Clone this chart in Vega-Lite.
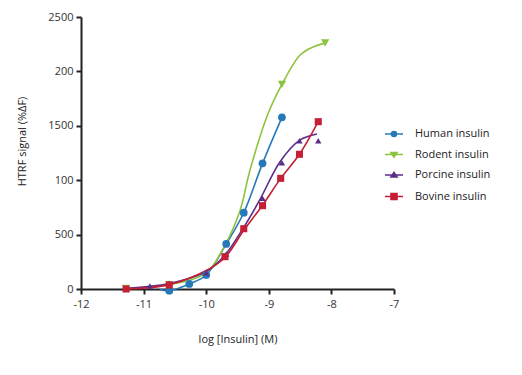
{
  "$schema": "https://vega.github.io/schema/vega-lite/v6.json",
  "width": 313,
  "height": 272,
  "autosize": {"type": "none"},
  "padding": {"left": 81, "top": 17, "right": 128, "bottom": 69},
  "background": "white",
  "config": {
    "view": {"stroke": null},
    "font": "Open Sans",
    "axis": {
      "domainColor": "#222",
      "domainWidth": 2,
      "tickColor": "#222",
      "tickWidth": 2,
      "tickSize": 5,
      "grid": false,
      "labelFont": "Open Sans",
      "labelFontSize": 11,
      "labelColor": "#333",
      "titleFont": "Open Sans",
      "titleFontSize": 11,
      "titleFontWeight": "normal",
      "titleColor": "#222"
    }
  },
  "datasets": {
    "curves": [
      {"insulin": "Human insulin", "logc": -10.74, "signal": -5},
      {"insulin": "Human insulin", "logc": -10.59, "signal": -15},
      {"insulin": "Human insulin", "logc": -10.27, "signal": 46},
      {"insulin": "Human insulin", "logc": -10.0, "signal": 129},
      {"insulin": "Human insulin", "logc": -9.68, "signal": 414},
      {"insulin": "Human insulin", "logc": -9.4, "signal": 701},
      {"insulin": "Human insulin", "logc": -9.1, "signal": 1155},
      {"insulin": "Human insulin", "logc": -8.79, "signal": 1578},
      {"insulin": "Rodent insulin", "logc": -11.28, "signal": 5},
      {"insulin": "Rodent insulin", "logc": -10.59, "signal": 40},
      {"insulin": "Rodent insulin", "logc": -10.0, "signal": 150},
      {"insulin": "Rodent insulin", "logc": -9.7, "signal": 404},
      {"insulin": "Rodent insulin", "logc": -9.46, "signal": 720},
      {"insulin": "Rodent insulin", "logc": -9.3, "signal": 1094},
      {"insulin": "Rodent insulin", "logc": -9.01, "signal": 1615},
      {"insulin": "Rodent insulin", "logc": -8.79, "signal": 1881},
      {"insulin": "Rodent insulin", "logc": -8.5, "signal": 2151},
      {"insulin": "Rodent insulin", "logc": -8.29, "signal": 2225},
      {"insulin": "Rodent insulin", "logc": -8.1, "signal": 2260},
      {"insulin": "Porcine insulin", "logc": -11.28, "signal": 5},
      {"insulin": "Porcine insulin", "logc": -10.9, "signal": 25},
      {"insulin": "Porcine insulin", "logc": -10.59, "signal": 50},
      {"insulin": "Porcine insulin", "logc": -10.0, "signal": 160},
      {"insulin": "Porcine insulin", "logc": -9.7, "signal": 312},
      {"insulin": "Porcine insulin", "logc": -9.41, "signal": 558},
      {"insulin": "Porcine insulin", "logc": -9.14, "signal": 824},
      {"insulin": "Porcine insulin", "logc": -8.82, "signal": 1170},
      {"insulin": "Porcine insulin", "logc": -8.5, "signal": 1370},
      {"insulin": "Porcine insulin", "logc": -8.23, "signal": 1425},
      {"insulin": "Bovine insulin", "logc": -11.28, "signal": 0},
      {"insulin": "Bovine insulin", "logc": -10.59, "signal": 40},
      {"insulin": "Bovine insulin", "logc": -10.0, "signal": 170},
      {"insulin": "Bovine insulin", "logc": -9.7, "signal": 290},
      {"insulin": "Bovine insulin", "logc": -9.4, "signal": 540},
      {"insulin": "Bovine insulin", "logc": -9.1, "signal": 770},
      {"insulin": "Bovine insulin", "logc": -8.81, "signal": 1017},
      {"insulin": "Bovine insulin", "logc": -8.51, "signal": 1238},
      {"insulin": "Bovine insulin", "logc": -8.21, "signal": 1538}
    ],
    "points": [
      {"insulin": "Human insulin", "logc": -10.59, "signal": -15},
      {"insulin": "Human insulin", "logc": -10.27, "signal": 46},
      {"insulin": "Human insulin", "logc": -10.0, "signal": 129},
      {"insulin": "Human insulin", "logc": -9.68, "signal": 414},
      {"insulin": "Human insulin", "logc": -9.4, "signal": 701},
      {"insulin": "Human insulin", "logc": -9.1, "signal": 1155},
      {"insulin": "Human insulin", "logc": -8.79, "signal": 1578},
      {"insulin": "Rodent insulin", "logc": -11.28, "signal": 5},
      {"insulin": "Rodent insulin", "logc": -10.59, "signal": 40},
      {"insulin": "Rodent insulin", "logc": -8.79, "signal": 1881},
      {"insulin": "Rodent insulin", "logc": -8.1, "signal": 2262},
      {"insulin": "Porcine insulin", "logc": -11.28, "signal": 5},
      {"insulin": "Porcine insulin", "logc": -10.9, "signal": 28},
      {"insulin": "Porcine insulin", "logc": -10.59, "signal": 52},
      {"insulin": "Porcine insulin", "logc": -10.0, "signal": 150},
      {"insulin": "Porcine insulin", "logc": -9.68, "signal": 322},
      {"insulin": "Porcine insulin", "logc": -9.4, "signal": 560},
      {"insulin": "Porcine insulin", "logc": -9.1, "signal": 834},
      {"insulin": "Porcine insulin", "logc": -8.79, "signal": 1161},
      {"insulin": "Porcine insulin", "logc": -8.51, "signal": 1363},
      {"insulin": "Porcine insulin", "logc": -8.21, "signal": 1363},
      {"insulin": "Bovine insulin", "logc": -11.28, "signal": 0},
      {"insulin": "Bovine insulin", "logc": -10.59, "signal": 37},
      {"insulin": "Bovine insulin", "logc": -9.7, "signal": 297},
      {"insulin": "Bovine insulin", "logc": -9.4, "signal": 554},
      {"insulin": "Bovine insulin", "logc": -9.1, "signal": 766},
      {"insulin": "Bovine insulin", "logc": -8.81, "signal": 1017},
      {"insulin": "Bovine insulin", "logc": -8.51, "signal": 1238},
      {"insulin": "Bovine insulin", "logc": -8.21, "signal": 1538}
    ]
  },
  "encoding": {
    "x": {
      "field": "logc", "type": "quantitative",
      "scale": {"domain": [-12, -7], "nice": false, "zero": false},
      "axis": {"values": [-12, -11, -10, -9, -8, -7], "labelExpr": "'' + datum.value", "title": "log [Insulin] (M)", "titlePadding": 24, "labelPadding": 4, "labelFlush": false}
    },
    "y": {
      "field": "signal", "type": "quantitative",
      "scale": {"domain": [0, 2500], "nice": false},
      "axis": {
        "values": [0, 500, 1000, 1500, 2000, 2500],
        "labelExpr": "datum.value == 2000 ? '200' : datum.value == 1000 ? '100' : '' + datum.value",
        "title": "HTRF signal (%ΔF)",
        "titlePadding": 20,
        "titleY": 124,
        "labelPadding": 3,
        "labelFlush": false
      }
    }
  },
  "layer": [
    {
      "data": {"name": "curves"},
      "mark": {"type": "line", "interpolate": "catmull-rom", "strokeWidth": 1.6},
      "encoding": {
        "color": {
          "field": "insulin", "type": "nominal",
          "scale": {
            "domain": ["Human insulin", "Rodent insulin", "Porcine insulin", "Bovine insulin"],
            "range": ["#2579b9", "#8cc33f", "#5b2d86", "#c41f35"]
          },
          "legend": {
            "title": null,
            "orient": "none",
            "legendX": 307,
            "legendY": 111,
            "padding": 0,
            "symbolSize": 100,
            "symbolStrokeWidth": 1.6,
            "labelOffset": 15,
            "labelFont": "Open Sans",
            "labelFontSize": 11,
            "labelColor": "#222",
            "rowPadding": 8.5,
            "encode": {
              "symbols": {
                "update": {
                  "shape": {"signal": "datum.value == 'Human insulin' ? 'M-1.8,0H1.8M0.5,0A0.5,0.5,0,1,1,-0.5,0A0.5,0.5,0,1,1,0.5,0' : datum.value == 'Rodent insulin' ? 'M-1.8,0H1.8M-0.6,-0.4L0.6,-0.4L0,0.5Z' : datum.value == 'Porcine insulin' ? 'M-1.8,0H1.8M-0.6,0.4L0.6,0.4L0,-0.5Z' : 'M-1.8,0H1.8M-0.6,-0.6H0.6V0.6H-0.6Z'"},
                  "fill": {"signal": "scale('color', datum.value)"}
                }
              }
            }
          }
        }
      }
    },
    {
      "data": {"name": "points"},
      "mark": {"type": "point", "filled": true, "opacity": 1},
      "encoding": {
        "color": {"field": "insulin", "type": "nominal", "legend": null},
        "shape": {
          "field": "insulin", "type": "nominal", "legend": null,
          "scale": {
            "domain": ["Bovine insulin", "Human insulin", "Porcine insulin", "Rodent insulin"],
            "range": ["square", "circle", "triangle-up", "triangle-down"]
          }
        },
        "size": {
          "field": "insulin", "type": "nominal", "legend": null,
          "scale": {
            "domain": ["Porcine insulin", "Bovine insulin", "Human insulin", "Rodent insulin"],
            "range": [40, 70, 38, 40]
          }
        }
      }
    }
  ]
}
